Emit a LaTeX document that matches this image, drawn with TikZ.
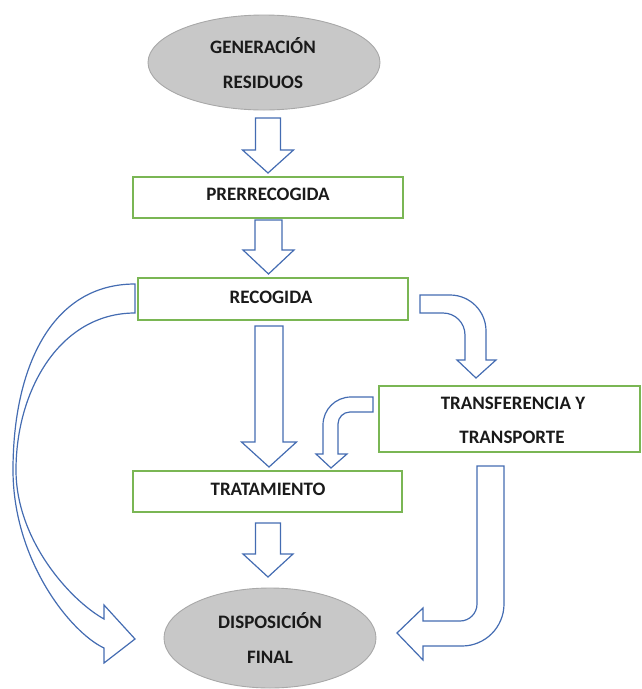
\documentclass[tikz,border=0pt]{standalone}
\usepackage{fontspec}
\setmainfont{Carlito}
\usetikzlibrary{shapes.geometric}
\definecolor{arrowblue}{RGB}{68,108,178}
\definecolor{boxgreen}{RGB}{122,182,84}
\definecolor{ovalfill}{RGB}{200,200,200}
\definecolor{ovalline}{RGB}{168,168,168}
\definecolor{ink}{RGB}{26,26,26}
% straight block arrow pointing down:
% #1 centre x, #2 top, #3 head base, #4 tip, #5 half shaft width, #6 half head width
\newcommand\downblock[6]{%
  \draw[blockarrow] (#1-#5,#2) -- (#1+#5,#2) -- (#1+#5,#3) -- (#1+#6,#3)
    -- (#1,#4) -- (#1-#6,#3) -- (#1-#5,#3) -- cycle;}
\begin{document}
\begin{tikzpicture}[x=1pt,y=-1pt,
  stagebox/.style={rectangle, draw=boxgreen, line width=1.3pt, inner sep=0pt},
  oval/.style={ellipse, draw=ovalline, fill=ovalfill, line width=0.9pt, inner sep=0pt},
  lbl/.style={font=\fontsize{19}{19}\selectfont\bfseries, text=ink, anchor=base, inner sep=0pt},
  blockarrow/.style={draw=arrowblue, fill=white, line width=1.2pt, line join=miter}]
\useasboundingbox (0,0) rectangle (641,689);

% stages
\node[oval, minimum width=232pt, minimum height=95pt] (gen) at (264,62.5) {};
\node[stagebox, minimum width=270pt, minimum height=41pt] (pre) at (268,197.5) {};
\node[stagebox, minimum width=270pt, minimum height=42pt] (rec) at (273,299) {};
\node[stagebox, minimum width=261pt, minimum height=66pt] (tra) at (509.5,419) {};
\node[stagebox, minimum width=269pt, minimum height=41pt] (trat) at (267.5,491.5) {};
\node[oval, minimum width=212pt, minimum height=100pt] (disp) at (270,638) {};

% straight block arrows
\downblock{268}{118}{150}{173}{12.5}{25.5}
\downblock{268.5}{220}{250}{274}{13.5}{25.5}
\downblock{269}{326}{442}{467}{14}{27.5}
\downblock{268}{523}{554}{577}{12.5}{25}

% bent arrow: recogida -> transferencia
\draw[blockarrow] (420,295) -- (450,295) .. controls (469.9,295) and (486,311.1) .. (486,331)
  -- (486,360) -- (496,360) -- (476,378) -- (457,360) -- (465,360) -- (465,335)
  .. controls (465,322.8) and (455.2,313) .. (443,313) -- (420,313) -- cycle;

% bent arrow: transferencia -> tratamiento
\draw[blockarrow] (373,397) -- (351,397) .. controls (335.5,397) and (323,409.5) .. (323,425)
  -- (323,454) -- (316,454) -- (331,468) -- (347,454) -- (338,454) -- (338,424)
  .. controls (338,417.4) and (343.4,412) .. (350,412) -- (373,412) -- cycle;

% bent arrow: transferencia -> disposicion
\draw[blockarrow] (477,466) -- (504,466) -- (504,604) .. controls (504,627.2) and (485.2,646) .. (462,646)
  -- (423,646) -- (423,660) -- (397,633) -- (423,608) -- (423,621) -- (460,621)
  .. controls (469.4,621) and (477,613.4) .. (477,604) -- cycle;

% curved arrow: recogida -> disposicion
\draw[blockarrow] (135,284) .. controls (50,284) and (13,370) .. (13,470)
  .. controls (13,560) and (70,632) .. (104,648)
  -- (104,663) -- (135,639) -- (104,605) -- (104,619)
  .. controls (70,600) and (16,540) .. (16,470)
  .. controls (16,390) and (60,313) .. (135,313) -- cycle;

% labels
\node[lbl] (genA) at (263,53) {GENERACIÓN};
\node[lbl] (genB) at (263,88) {RESIDUOS};
\node[lbl] (preA) at (268,200) {PRERRECOGIDA};
\node[lbl] (recA) at (271,303) {RECOGIDA};
\node[lbl] (traA) at (513,409) {TRANSFERENCIA Y};
\node[lbl] (traB) at (512,443) {TRANSPORTE};
\node[lbl] (tratA) at (268,495) {TRATAMIENTO};
\node[lbl] (dispA) at (270,628) {DISPOSICIÓN};
\node[lbl] (dispB) at (270,663) {FINAL};
\end{tikzpicture}
\end{document}
